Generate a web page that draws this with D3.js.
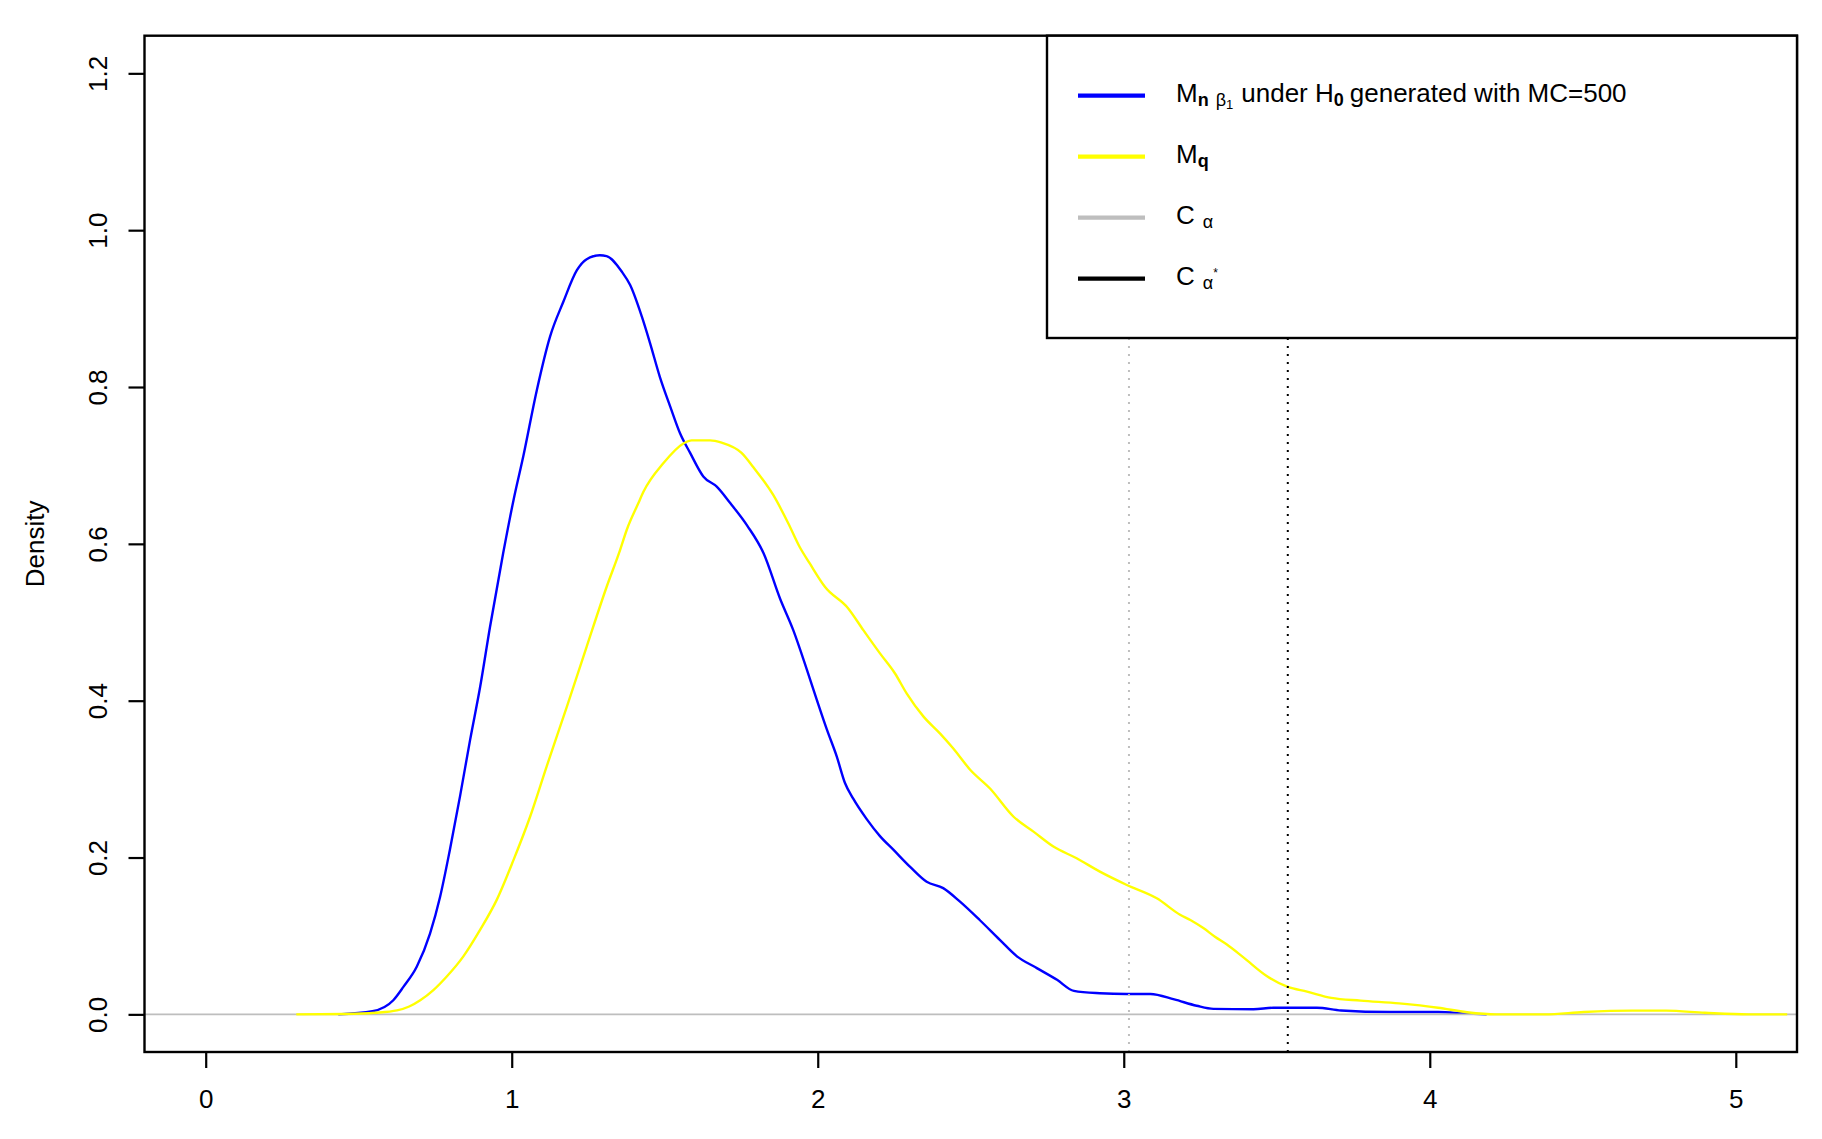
<!DOCTYPE html>
<html><head><meta charset="utf-8">
<script src="https://cdn.jsdelivr.net/npm/d3@7"></script>
<style>html,body{margin:0;padding:0;background:#fff;}svg{display:block;font-family:"Liberation Sans",Arial,sans-serif;}</style>
</head><body><svg id="c" width="1822" height="1139"></svg>
<script>
// ---- data ----
const blueX = [0.433,0.545,0.613,0.646,0.690,0.733,0.766,0.798,0.831,0.864,0.897,0.929,0.972,1.006,1.038,1.082,1.125,1.169,1.213,1.245,1.288,1.310,1.360,1.387,1.425,1.452,1.484,1.518,1.550,1.583,1.626,1.670,1.714,1.770,1.823,1.877,1.920,1.965,1.997,2.030,2.062,2.089,2.116,2.160,2.204,2.247,2.302,2.356,2.410,2.464,2.530,2.595,2.651,2.716,2.782,2.837,2.922,3.010,3.087,3.165,3.238,3.293,3.424,3.489,3.577,3.631,3.710,3.869,4.027,4.122,4.186];
const blueY = [0,0.004,0.018,0.035,0.061,0.103,0.150,0.210,0.278,0.350,0.418,0.494,0.588,0.656,0.712,0.796,0.864,0.909,0.949,0.963,0.968,0.967,0.947,0.930,0.890,0.856,0.813,0.775,0.741,0.716,0.686,0.673,0.652,0.623,0.588,0.530,0.490,0.439,0.401,0.363,0.329,0.295,0.275,0.249,0.227,0.210,0.188,0.169,0.161,0.144,0.120,0.095,0.074,0.059,0.044,0.030,0.027,0.026,0.026,0.019,0.011,0.007,0.0065,0.0085,0.0085,0.0085,0.005,0.003,0.003,0.001,0];
const yellowX = [0.296,0.454,0.555,0.625,0.665,0.701,0.744,0.787,0.842,0.897,0.951,1.006,1.060,1.114,1.180,1.245,1.310,1.354,1.376,1.414,1.430,1.496,1.561,1.588,1.648,1.686,1.751,1.789,1.855,1.904,1.941,1.974,2.024,2.099,2.149,2.204,2.252,2.291,2.345,2.400,2.443,2.498,2.563,2.640,2.705,2.770,2.846,2.922,3.010,3.108,3.184,3.219,3.260,3.298,3.337,3.393,3.467,3.536,3.599,3.678,3.774,3.900,4.027,4.122,4.217,4.376,4.503,4.661,4.772,4.899,5.041,5.168];
const yellowY = [0,0.0005,0.002,0.005,0.010,0.018,0.031,0.048,0.074,0.108,0.146,0.197,0.252,0.316,0.392,0.469,0.545,0.592,0.618,0.652,0.666,0.703,0.728,0.732,0.732,0.729,0.716,0.698,0.662,0.626,0.596,0.575,0.545,0.518,0.490,0.460,0.435,0.409,0.380,0.358,0.339,0.312,0.288,0.252,0.233,0.214,0.199,0.182,0.165,0.148,0.127,0.120,0.110,0.099,0.089,0.072,0.049,0.035,0.029,0.021,0.0175,0.014,0.0085,0.0027,0,0,0.003,0.0047,0.0047,0.002,0,0];
const cAlpha = 3.017;
const cAlphaStar = 3.536;
const xTicks = [0,1,2,3,4,5];
const yTicks = [0.0,0.2,0.4,0.6,0.8,1.0,1.2];
const yLabel = "Density";

// ---- layout ----
const L = 144.5, R = 1797, T = 35.7, B = 1052;
const svg = d3.select("#c");
svg.append("rect").attr("width",1822).attr("height",1139).attr("fill","#fff");
const x = d3.scaleLinear().domain([-0.2,5.2]).range([L,R]);
const y = d3.scaleLinear().domain([-0.048,1.248]).range([B,T]);

const line = d3.line().x(d=>x(d[0])).y(d=>y(d[1])).curve(d3.curveMonotoneX);
const g = svg.append("g");
g.append("path").attr("d", line(d3.zip(blueX, blueY))).attr("fill","none").attr("stroke","#0000FF").attr("stroke-width",2.4).attr("stroke-linejoin","round");
g.append("line").attr("x1",L).attr("x2",R).attr("y1",y(0)).attr("y2",y(0)).attr("stroke","#BEBEBE").attr("stroke-width",1.6);
g.append("path").attr("d", line(d3.zip(yellowX, yellowY))).attr("fill","none").attr("stroke","#FFFF00").attr("stroke-width",2.4).attr("stroke-linejoin","round");
g.append("line").attr("x1",x(cAlpha)).attr("x2",x(cAlpha)).attr("y1",B).attr("y2",T).attr("stroke","#BEBEBE").attr("stroke-width",2).attr("stroke-dasharray","2,6");
g.append("line").attr("x1",x(cAlphaStar)).attr("x2",x(cAlphaStar)).attr("y1",B).attr("y2",T).attr("stroke","#000").attr("stroke-width",2).attr("stroke-dasharray","2,6");

// axes
const xAxis = d3.axisBottom(x).tickValues(xTicks).tickSize(16).tickPadding(22).tickFormat(d3.format("d"));
const gx = svg.append("g").attr("transform",`translate(0,${B})`).call(xAxis);
gx.select(".domain").attr("stroke","none");
gx.selectAll(".tick line").attr("stroke","#000").attr("stroke-width",2.2);
gx.selectAll(".tick text").attr("font-size",26).attr("font-family","Liberation Sans, Arial, sans-serif").attr("fill","#000").attr("dy","0.71em");

const yAxis = d3.axisLeft(y).tickValues(yTicks).tickSize(16).tickFormat(d3.format(".1f"));
const gy = svg.append("g").attr("transform",`translate(${L},0)`).call(yAxis);
gy.select(".domain").attr("stroke","none");
gy.selectAll(".tick line").attr("stroke","#000").attr("stroke-width",2.2);
gy.selectAll(".tick text").attr("font-size",26).attr("font-family","Liberation Sans, Arial, sans-serif").attr("fill","#000")
  .attr("x",null).attr("dy",null).attr("text-anchor","middle")
  .attr("transform","translate(-38,0) rotate(-90)");

// box
svg.append("rect").attr("x",L).attr("y",T).attr("width",R-L).attr("height",B-T).attr("fill","none").attr("stroke","#000").attr("stroke-width",2.4);

// y label
svg.append("text").attr("transform",`translate(44,${(T+B)/2}) rotate(-90)`).attr("text-anchor","middle")
  .attr("font-size",26).attr("fill","#000").text(yLabel);

// legend
const lg = svg.append("g");
const LX = 1047, LB = 338;
lg.append("rect").attr("x",LX).attr("y",T).attr("width",R-LX).attr("height",LB-T).attr("fill","#fff").attr("stroke","#000").attr("stroke-width",2.4);
const legendColors = ["#0000FF","#FFFF00","#BEBEBE","#000000"];
const rowY = [95.7,156.7,217.7,278.7];
legendColors.forEach((c,i)=>{
  lg.append("line").attr("x1",1078).attr("x2",1145).attr("y1",rowY[i]).attr("y2",rowY[i]).attr("stroke",c).attr("stroke-width",4.2);
});
const fs = 26, tx = 1176;
function row(i){ return lg.append("text").attr("x",tx).attr("y",rowY[i]+6).attr("font-size",fs).attr("fill","#000"); }
let t = row(0);
t.append("tspan").text("M");
t.append("tspan").attr("font-size",18).attr("font-weight","bold").attr("dy",4).text("n");
t.append("tspan").attr("font-size",18).attr("dx",7).text("β");
t.append("tspan").attr("font-size",13).attr("dy",3).text("1");
t.append("tspan").attr("dy",-7).attr("dx",8).text("under H");
t.append("tspan").attr("font-size",18).attr("font-weight","bold").attr("dy",4).text("0");
t.append("tspan").attr("dy",-4).attr("dx",6).text("generated with MC=500");
t = row(1);
t.append("tspan").text("M");
t.append("tspan").attr("font-size",18).attr("font-weight","bold").attr("dy",4).text("q");
t = row(2);
t.append("tspan").text("C");
t.append("tspan").attr("font-size",18).attr("dx",8).attr("dy",4).text("α");
t = row(3);
t.append("tspan").text("C");
t.append("tspan").attr("font-size",18).attr("dx",8).attr("dy",4).text("α");
t.append("tspan").attr("font-size",12).attr("dy",-12).text("*");
</script>
</body></html>
